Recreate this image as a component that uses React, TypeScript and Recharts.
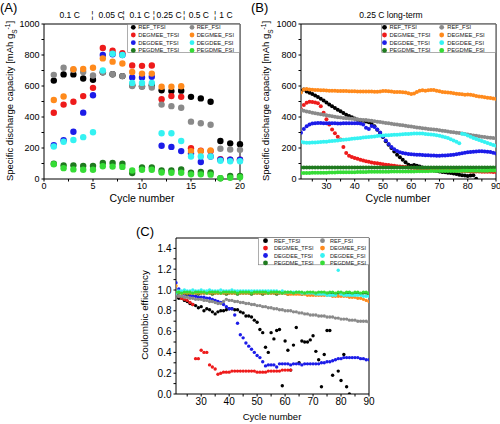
import React from "react";
import { ScatterChart, Scatter, XAxis, YAxis } from "recharts";

// series order: TFSI first, FSI drawn on top
const seriesNames = [
  "REF_TFSI",
  "DEGMEE_TFSI",
  "DEGDEE_TFSI",
  "PEGDME_TFSI",
  "REF_FSI",
  "DEGMEE_FSI",
  "DEGDEE_FSI",
  "PEGDME_FSI",
];
const seriesColors = [
  "#000000",
  "#ee1b1b",
  "#1c1ce8",
  "#1f7a1f",
  "#8a8a8a",
  "#ff8a1c",
  "#35f2f2",
  "#36dc36",
];

// ---- (A) rate capability, cycles 1-20
const cyclesA = [1, 2, 3, 4, 5, 6, 7, 8, 9, 10, 11, 12, 13, 14, 15, 16, 17, 18, 19, 20];
const refTfsiA = [635, 675, 675, 648, 640, 688, 676, 664, 605, 598, 605, 572, 567, 570, 530, 520, 498, 245, 230, 225];
const degmeeTfsiA = [427, 480, 498, 535, 588, 845, 828, 812, 733, 730, 732, 515, 535, 530, 198, 182, 180, 128, 125, 125];
const degdeeTfsiA = [218, 250, 305, 428, 540, 800, 805, 800, 655, 655, 660, 215, 207, 180, 165, 110, 145, 125, 125, 125];
const pegdmeTfsiA = [99, 88, 88, 85, 85, 103, 103, 98, 38, 75, 75, 55, 55, 62, 40, 45, 42, 5, 20, 20];
const refFsiA = [672, 718, 705, 690, 668, 688, 676, 664, 600, 595, 590, 480, 470, 460, 370, 360, 350, 195, 190, 188];
const degmeeFsiA = [510, 532, 708, 710, 718, 778, 757, 745, 690, 680, 680, 595, 595, 598, 180, 180, 185, null, null, null];
const degdeeFsiA = [210, 240, 252, 270, 302, 700, 808, 800, 620, 620, 620, 295, 295, 245, 145, 145, 145, 118, 115, 115];
const pegdmeFsiA = [95, 70, 62, 60, 60, 82, 80, 78, 55, 60, 60, 42, 40, 40, 30, 30, 28, 5, 8, 12];

const rateTickPos = [2.62, 4.94, 6.84, 8.13, 9.77, 11.2, 12.76, 14.3, 15.8, 17.45, 18.57];
const rateTickText = ["0.1 C", "¦", "0.05 C", "¦", "0.1 C", "¦", "0.25 C", "¦", "0.5 C", "¦", "1 C"];

// ---- (B) long-term capacity and (C) coulombic efficiency, cycles 21-90
const cyclesB = [
  21, 22, 23, 24, 25, 26, 27, 28, 29, 30,
  31, 32, 33, 34, 35, 36, 37, 38, 39, 40,
  41, 42, 43, 44, 45, 46, 47, 48, 49, 50,
  51, 52, 53, 54, 55, 56, 57, 58, 59, 60,
  61, 62, 63, 64, 65, 66, 67, 68, 69, 70,
  71, 72, 73, 74, 75, 76, 77, 78, 79, 80,
  81, 82, 83, 84, 85, 86, 87, 88, 89, 90,
];

const refTfsiB = [
  570, 578, 565, 556, 548, 538, 529, 518, 507, 494,
  480, 469, 458, 447, 437, 426, 415, 406, 398, 390,
  383, 379, 376, 371, 366, 355, 340, 318, 297, 271,
  243, 221, 200, 178, 157, 140, 125, 108, 92, 86,
  90, 85, 80, 75, 70, 65, 60, 55, 52, 48,
  45, 43, 40, 38, 35, 32, 28, 25, 22, 20,
  22, 25, 2, null, null, null, null, null, null, null,
];
const degmeeTfsiB = [
  450, 478, 492, 498, 497, 494, 488, 470, 428, 385,
  352, 320, 295, 272, 255, 206, 168, 150, 142, 136,
  130, 125, 120, 115, 111, 107, 104, 101, 98, 95,
  92, 90, 87, 85, 83, 81, 79, 77, 75, 73,
  72, 70, 69, 67, 66, 64, 63, 62, 61, 60,
  59, 58, 57, 56, 55, 54, 53, 52, 51, 50,
  49, 49, 48, 48, 47, 47, 46, 46, 45, 45,
];
const degdeeTfsiB = [
  298, 322, 340, 352, 358, 360, 361, 361, 360, 360,
  360, 359, 359, 358, 358, 359, 360, 360, 360, 360,
  360, 358, 352, 330, 322, 342, 336, 320, 300, 274,
  248, 226, 206, 192, 181, 173, 168, 165, 162, 160,
  158, 157, 156, 155, 154, 153, 152, 151, 150, 150,
  151, 152, 153, 155, 157, 160, 163, 166, 169, 172,
  174, 176, 178, 179, 179, 178, 176, 174, 170, 165,
];
const pegdmeTfsiB = [
  74, 75, 75, 74, 75, 75, 74, 75, 75, 74,
  75, 75, 74, 75, 75, 74, 75, 75, 74, 75,
  75, 74, 75, 75, 74, 75, 75, 74, 75, 75,
  74, 75, 75, 74, 75, 75, 74, 75, 75, 74,
  75, 75, 74, 75, 75, 74, 75, 75, 74, 75,
  75, 74, 75, 75, 74, 75, 75, 74, 75, 75,
  74, 75, 75, 74, 75, 75, 74, 75, 75, 74,
];
const refFsiB = [
  445, 440, 436, 432, 428, 425, 421, 418, 414, 411,
  408, 405, 402, 399, 396, 394, 392, 390, 388, 387,
  385, 383, 381, 380, 378, 376, 373, 370, 368, 365,
  362, 360, 357, 354, 351, 348, 346, 343, 341, 338,
  336, 333, 331, 328, 326, 323, 321, 319, 317, 315,
  312, 310, 307, 304, 301, 298, 296, 293, 290, 287,
  284, 281, 279, 276, 273, 271, 268, 266, 264, 262,
];
const degmeeFsiB = [
  558, 578, 580, 578, 576, 575, 574, 573, 572, 571,
  570, 570, 569, 568, 568, 567, 567, 566, 566, 566,
  565, 565, 565, 564, 564, 564, 563, 563, 565, 567,
  568, 566, 564, 562, 562, 561, 560, 558, 554, 548,
  552, 562, 570, 572, 570, 572, 575, 574, 570, 566,
  562, 560, 558, 556, 553, 550, 548, 546, 544, 545,
  544, 540, 536, 532, 530, 528, 525, 522, 519, 516,
];
const degdeeFsiB = [
  240, 236, 234, 234, 235, 236, 237, 238, 240, 241,
  243, 245, 247, 249, 251, 253, 255, 257, 259, 261,
  263, 265, 267, 269, 271, 273, 275, 277, 279, 280,
  282, 283, 284, 285, 286, 287, 288, 290, 291, 292,
  293, 294, 294, 293, 291, 289, 287, 285, 282, 279,
  275, 270, 264, 257, 249, 240, 230, 292, 288, 281,
  273, 265, 258, 251, 245, 238, 232, 226, 220, 215,
];
const pegdmeFsiB = [
  38, 38, 39, 39, 40, 40, 40, 41, 41, 41,
  42, 42, 42, 43, 43, 43, 44, 44, 44, 44,
  45, 45, 45, 45, 46, 46, 46, 46, 47, 47,
  47, 47, 48, 48, 48, 48, 48, 49, 49, 49,
  49, 50, 50, 50, 50, 50, 51, 51, 51, 51,
  51, 52, 52, 52, 52, 52, 52, 53, 53, 53,
  53, 53, 54, 54, 54, 54, 54, 55, 55, 55,
];

const refTfsiC = [
  0.95, 0.92, 0.92, 0.9, 0.89, 0.87, 0.86, 0.85, 0.83, 0.84,
  0.8, 0.82, 0.81, 0.79, 0.77, 0.79, 0.8, 0.8, 0.81, 0.82,
  0.82, 0.81, 0.81, 0.79, 0.78, 0.75, 0.75, 0.74, 0.71, 0.69,
  0.62, 0.59, 0.45, 0.4, 0.59, 0.53, 0.61, 0.62, 0.08, 0.51,
  0.42, 0.23, 0.47, 0.64, 0.3, 0.51, 0.5, 0.5, 0.52, 0.56,
  0.41, 0.33, 0.07, 0.38, 0.61, 0.61, 0.18, null, 0.22, 0.13,
  0.38, 0.07, 0.0, null, null, null, null, null, null, null,
];
const degmeeTfsiC = [
  0.97, 0.94, 0.92, 0.91, 0.9, 0.88, 0.86, 0.34, 0.34, 0.42,
  0.4, 0.4, 0.28, 0.26, 0.24, 0.19, 0.2, 0.21, 0.21, 0.21,
  0.22, 0.22, 0.22, 0.22, 0.22, 0.22, 0.22, 0.22, 0.22, 0.21,
  0.21, 0.21, 0.21, 0.22, 0.22, 0.22, 0.22, 0.22, 0.23, 0.23,
  0.23, 0.23, null, null, null, null, null, null, null, null,
  null, null, null, null, null, null, null, null, null, null,
  null, null, null, null, null, null, null, null, null, null,
];
const degdeeTfsiC = [
  1.07, 1.01, 0.98, 0.96, 0.95, 0.95, 0.94, 0.94, 0.93, 0.93,
  0.93, 0.92, 0.92, 0.91, 0.9, 0.89, 0.88, 0.86, 0.84, 0.82,
  0.82, 0.76, 0.68, 0.57, 0.54, 0.49, 0.46, 0.43, 0.4, 0.37,
  0.35, 0.31, 0.27, 0.28, 0.28, 0.28, 0.26, 0.29, 0.29, 0.29,
  0.29, 0.28, 0.29, 0.29, 0.29, 0.28, 0.29, 0.29, 0.29, 0.29,
  0.29, 0.29, 0.3, 0.3, 0.31, 0.31, 0.32, 0.33, 0.34, 0.34,
  0.35, 0.35, 0.35, 0.35, 0.35, 0.35, 0.34, 0.34, 0.33, 0.33,
];
const pegdmeTfsiC = [
  0.96, 0.97, 0.97, 0.97, 0.96, 0.97, 0.97, 0.97, 0.96, 0.97,
  0.97, 0.97, 0.97, 0.96, 0.97, 0.97, 0.97, 0.97, 0.96, 0.97,
  0.97, 0.97, 0.96, 0.97, 0.97, 0.97, 0.97, 0.96, 0.97, 0.97,
  0.97, 0.96, 0.97, 0.97, 0.97, 0.97, 0.96, 0.97, 0.97, 0.97,
  0.96, 0.97, 0.97, 0.97, 0.97, 0.96, 0.97, 0.97, 0.97, 0.96,
  0.97, 0.97, 0.97, 0.96, 0.97, 0.97, 0.97, 0.96, 0.97, 0.97,
  0.96, 0.97, 0.97, 0.96, 0.97, 0.97, 0.96, 0.97, 0.97, 0.96,
];
const refFsiC = [
  0.95, 0.94, 0.94, 0.93, 0.93, 0.92, 0.92, 0.91, 0.91, 0.91,
  0.9, 0.9, 0.89, 0.89, 0.88, 0.87, 0.87, 0.89, 0.91, 0.9,
  0.9, 0.89, 0.89, 0.88, 0.88, 0.87, 0.87, 0.86, 0.86, 0.85,
  0.85, 0.84, 0.84, 0.83, 0.83, 0.82, 0.82, 0.81, 0.81, 0.8,
  0.8, 0.8, 0.79, 0.79, 0.78, 0.78, 0.77, 0.77, 0.76, 0.76,
  0.76, 0.75, 0.75, 0.75, 0.74, 0.74, 0.74, 0.73, 0.73, 0.72,
  0.72, 0.72, 0.71, 0.71, 0.71, 0.7, 0.7, 0.7, 0.7, 0.69,
];
const degmeeFsiC = [
  1.04, 0.98, 0.97, 0.97, 0.97, 0.97, 0.97, 0.97, 0.97, 0.97,
  0.97, 0.97, 0.97, 0.97, 0.97, 0.97, 0.97, 0.97, 0.97, 0.97,
  0.97, 0.97, 0.97, 0.97, 0.97, 0.97, 0.97, 0.97, 0.97, 0.97,
  0.97, 0.97, 0.97, 0.97, 0.97, 0.97, 0.97, 0.97, 0.97, 0.97,
  0.96, 0.96, 0.96, 0.96, 0.96, 0.96, 0.96, 0.95, 0.95, 0.95,
  0.95, 0.95, 0.95, 0.95, 0.95, 0.95, 0.94, 0.94, 0.94, 0.94,
  0.94, 0.94, 0.93, 0.93, 0.93, 0.92, 0.92, 0.91, 0.9, 0.89,
];
const degdeeFsiC = [
  0.97, 0.99, 0.99, 1.0, 0.99, 0.99, 1.0, 0.99, 0.99, 1.0,
  0.99, 0.99, 1.0, 0.99, 0.99, 0.99, 1.0, 0.99, 0.99, 0.99,
  1.0, 0.99, 0.99, 0.99, 0.99, 0.99, 0.99, 0.99, 0.99, 0.99,
  0.99, 0.99, 0.99, 0.99, 0.99, 0.99, 0.99, 0.98, 0.99, 0.98,
  0.98, 0.98, 0.98, 0.98, 0.98, 0.97, 0.97, 0.97, 0.97, 0.97,
  0.96, 0.96, 0.96, 0.96, 0.95, 0.95, 0.95, 0.95, 1.19, 0.96,
  0.95, 0.95, 0.95, 0.95, 0.95, 0.95, 0.95, 0.94, 0.94, 0.94,
];
const pegdmeFsiC = [
  0.98, 0.98, 0.97, 0.98, 0.98, 0.98, 0.97, 0.98, 0.98, 0.98,
  0.98, 0.97, 0.98, 0.98, 0.98, 0.98, 0.97, 0.98, 0.98, 0.98,
  0.98, 0.98, 0.97, 0.98, 0.98, 0.98, 0.98, 0.97, 0.98, 0.98,
  0.98, 0.98, 0.98, 0.97, 0.98, 0.98, 0.98, 0.98, 0.97, 0.98,
  0.98, 0.98, 0.97, 0.98, 0.98, 0.98, 0.97, 0.98, 0.98, 0.98,
  0.97, 0.98, 0.98, 0.98, 0.97, 0.98, 0.98, 0.97, 0.98, 0.98,
  0.97, 0.98, 0.98, 0.97, 0.98, 0.98, 0.97, 0.98, 0.98, 0.97,
];

const seriesA = [refTfsiA, degmeeTfsiA, degdeeTfsiA, pegdmeTfsiA, refFsiA, degmeeFsiA, degdeeFsiA, pegdmeFsiA];
const seriesB = [refTfsiB, degmeeTfsiB, degdeeTfsiB, pegdmeTfsiB, refFsiB, degmeeFsiB, degdeeFsiB, pegdmeFsiB];
const seriesC = [refTfsiC, degmeeTfsiC, degdeeTfsiC, pegdmeTfsiC, refFsiC, degmeeFsiC, degdeeFsiC, pegdmeFsiC];

// major ticks carry labels, minor ticks get an empty label
const capTicks = [0, 100, 200, 300, 400, 500, 600, 700, 800, 900, 1000];
const capLabels = ["0", "", "200", "", "400", "", "600", "", "800", "", "1000"];
const ceTicks = [0, 0.1, 0.2, 0.3, 0.4, 0.5, 0.6, 0.7, 0.8, 0.9, 1.0, 1.1, 1.2, 1.3, 1.4];
const ceLabels = ["0.0", "", "0.2", "", "0.4", "", "0.6", "", "0.8", "", "1.0", "", "1.2", "", "1.4"];
const cycleTicksA = [0, 2.5, 5, 7.5, 10, 12.5, 15, 17.5, 20];
const cycleLabelsA = ["0", "", "5", "", "10", "", "15", "", "20"];
const cycleTicksB = [25, 30, 35, 40, 45, 50, 55, 60, 65, 70, 75, 80, 85, 90];
const cycleLabelsB = ["", "30", "", "40", "", "50", "", "60", "", "70", "", "80", "", "90"];

const toPoints = (xs: number[], ys: (number | null)[]) =>
  xs.map((x, i) => ({ x, y: ys[i] })).filter((p) => p.y !== null);

const dot = (color: string, r: number) => (p: any) =>
  <circle cx={p.cx} cy={p.cy} r={r} fill={color} />;

const FONT = "'Liberation Sans', Arial, Helvetica, sans-serif";
const axisLine = { stroke: "#000", strokeWidth: 1 };
const tickLine = { stroke: "#000" };

const renderSeries = (xs: number[], all: (number | null)[][], r: number) =>
  all.map((ys, i) => (
    <Scatter
      key={seriesNames[i]}
      name={seriesNames[i]}
      data={toPoints(xs, ys)}
      fill={seriesColors[i]}
      shape={dot(seriesColors[i], r)}
      isAnimationActive={false}
    />
  ));

const Legend8 = ({ x, y, w, c1, t1, c2, t2, step, fs }: any) => (
  <g>
    <rect x={x} y={y} width={w} height={step * 4 - 2.5} fill="#fff" stroke="#777" strokeWidth={0.6} />
    {seriesNames.map((n, i) => {
      const col = i < 4 ? 0 : 1;
      const row = i % 4;
      const cy = y + 3 + row * step;
      return (
        <g key={n}>
          <circle cx={col ? c2 : c1} cy={cy} r={2.4} fill={seriesColors[i]} />
          <text x={col ? t2 : t1} y={cy + 2} fontSize={fs} fill="#222">
            {n}
          </text>
        </g>
      );
    })}
  </g>
);

const CapTitle = ({ x, y }: { x: number; y: number }) => (
  <text transform={`translate(${x},${y}) rotate(-90)`} textAnchor="middle" fontSize={9.5} fill="#000">
    Specific discharge capacity [mAh g
    <tspan baselineShift="sub" fontSize={6.5}>S</tspan>
    <tspan baselineShift="super" fontSize={6.5}>-1</tspan>]
  </text>
);

export default function App() {
  return (
    <div
      style={{
        position: "absolute",
        left: 0,
        top: 0,
        width: 500,
        height: 424,
        background: "#fff",
        fontFamily: FONT,
        overflow: "hidden",
      }}
    >
      {/* (A) */}
      <div style={{ position: "absolute", left: 0, top: 0 }}>
        <ScatterChart width={250} height={210} margin={{ top: 0, right: 0, bottom: 0, left: 0 }}>
          <XAxis
            xAxisId="top"
            orientation="top"
            type="number"
            dataKey="x"
            domain={[0, 20]}
            allowDataOverflow
            ticks={rateTickPos}
            interval={0}
            tickFormatter={(_v: number, i: number) => rateTickText[i]}
            height={24}
            tickSize={0}
            tickMargin={6.5}
            axisLine={axisLine}
            tick={{ fontSize: 8.5, fill: "#000" }}
          />
          <XAxis
            type="number"
            dataKey="x"
            domain={[0, 20]}
            ticks={cycleTicksA}
            interval={0}
            tickFormatter={(_v: number, i: number) => cycleLabelsA[i]}
            height={31}
            tickSize={2.5}
            tickMargin={1.5}
            axisLine={axisLine}
            tickLine={tickLine}
            tick={{ fontSize: 9, fill: "#000" }}
          />
          <YAxis
            type="number"
            dataKey="y"
            domain={[0, 1000]}
            ticks={capTicks}
            interval={0}
            tickFormatter={(_v: number, i: number) => capLabels[i]}
            width={44}
            tickSize={2.5}
            axisLine={axisLine}
            tickLine={tickLine}
            tick={{ fontSize: 9, fill: "#000" }}
          />
          <YAxis yAxisId="right" orientation="right" type="number" domain={[0, 1]} width={10} tick={false} tickLine={false} axisLine={axisLine} />
          {renderSeries(cyclesA, seriesA, 3.2)}
        </ScatterChart>
      </div>

      {/* (B) */}
      <div style={{ position: "absolute", left: 250, top: 0 }}>
        <ScatterChart width={250} height={210} margin={{ top: 0, right: 0, bottom: 0, left: 0 }}>
          <XAxis xAxisId="top" orientation="top" type="number" domain={[21, 90]} height={24} tick={false} tickLine={false} axisLine={axisLine} />
          <XAxis
            type="number"
            dataKey="x"
            domain={[21, 90]}
            allowDataOverflow
            ticks={cycleTicksB}
            interval={0}
            tickFormatter={(_v: number, i: number) => cycleLabelsB[i]}
            height={31}
            tickSize={2.5}
            tickMargin={1.5}
            axisLine={axisLine}
            tickLine={tickLine}
            tick={{ fontSize: 9, fill: "#000" }}
          />
          <YAxis
            type="number"
            dataKey="y"
            domain={[0, 1000]}
            allowDataOverflow
            ticks={capTicks}
            interval={0}
            tickFormatter={(_v: number, i: number) => capLabels[i]}
            width={51}
            tickSize={2.5}
            axisLine={axisLine}
            tickLine={tickLine}
            tick={{ fontSize: 9, fill: "#000" }}
          />
          <YAxis yAxisId="right" orientation="right" type="number" domain={[0, 1]} width={4} tick={false} tickLine={false} axisLine={axisLine} />
          {renderSeries(cyclesB, seriesB, 2)}
        </ScatterChart>
      </div>

      {/* (C) */}
      <div style={{ position: "absolute", left: 125, top: 215 }}>
        <ScatterChart width={258} height={209} margin={{ top: 0, right: 10, bottom: 0, left: 0 }}>
          <XAxis xAxisId="top" orientation="top" type="number" domain={[21, 90]} height={23} tick={false} tickLine={false} axisLine={axisLine} />
          <XAxis
            type="number"
            dataKey="x"
            domain={[21, 90]}
            allowDataOverflow
            ticks={cycleTicksB}
            interval={0}
            tickFormatter={(_v: number, i: number) => cycleLabelsB[i]}
            height={30}
            tickSize={2.5}
            tickMargin={1.5}
            axisLine={axisLine}
            tickLine={tickLine}
            tick={{ fontSize: 10, fill: "#000" }}
          />
          <YAxis
            type="number"
            dataKey="y"
            domain={[0, 1.5]}
            allowDataOverflow
            ticks={ceTicks}
            interval={0}
            tickFormatter={(_v: number, i: number) => ceLabels[i]}
            width={51}
            tickSize={2.5}
            axisLine={axisLine}
            tickLine={tickLine}
            tick={{ fontSize: 10, fill: "#000" }}
          />
          <YAxis yAxisId="right" orientation="right" type="number" domain={[0, 1]} width={4} tick={false} tickLine={false} axisLine={axisLine} />
          {renderSeries(cyclesB, seriesC, 1.7)}
        </ScatterChart>
      </div>

      {/* titles, panel letters and legends */}
      <svg
        width={500}
        height={424}
        style={{ position: "absolute", left: 0, top: 0, pointerEvents: "none", fontFamily: FONT }}
      >
        <text x={0} y={12} fontSize={13} fill="#000">(A)</text>
        <text x={251} y={12} fontSize={13} fill="#000">(B)</text>
        <text x={136} y={236} fontSize={13} fill="#000">(C)</text>

        <CapTitle x={13} y={101} />
        <CapTitle x={269} y={101} />
        <text x={142} y={201.5} textAnchor="middle" fontSize={10.5} fill="#000">Cycle number</text>
        <text x={398} y={201.5} textAnchor="middle" fontSize={10.5} fill="#000">Cycle number</text>
        <text x={391} y={17.5} textAnchor="middle" fontSize={8.5} fill="#000">0.25 C long-term</text>

        <text transform="translate(148,315) rotate(-90)" textAnchor="middle" fontSize={9.8} fill="#000">
          Coulombic efficiency
        </text>
        <text x={272} y={419.5} textAnchor="middle" fontSize={9.5} fill="#000">Cycle number</text>

        <Legend8 x={127.7} y={24.3} w={112} c1={133.3} t1={138.3} c2={192} t2={196.7} step={7.7} fs={5.8} />
        <Legend8 x={381.7} y={24.3} w={114} c1={384.5} t1={389.5} c2={441.7} t2={447.3} step={7.7} fs={5.8} />
        <Legend8 x={258.3} y={237.7} w={110.7} c1={265.5} t1={274} c2={322.5} t2={330} step={7.4} fs={5.6} />
      </svg>
    </div>
  );
}
